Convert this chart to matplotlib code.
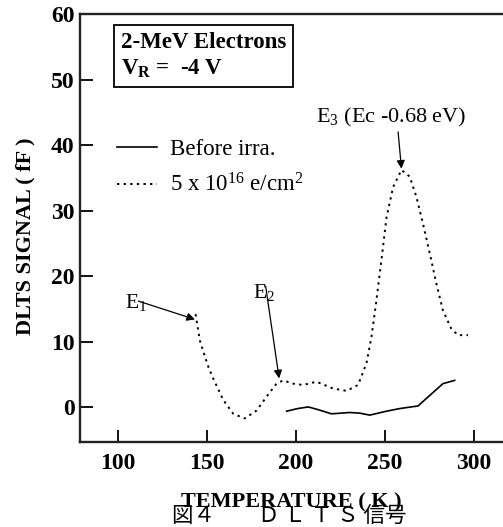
import matplotlib
matplotlib.use("Agg")
import matplotlib.pyplot as plt

plt.rcParams["font.family"] = ["Liberation Serif", "DejaVu Serif"]
plt.rcParams["mathtext.fontset"] = "custom"
plt.rcParams["mathtext.rm"] = "Liberation Serif"
plt.rcParams["mathtext.it"] = "Liberation Serif"
plt.rcParams["mathtext.bf"] = "Liberation Serif:bold"

# DLTS spectrum after irradiation (5e16 e/cm^2)
irr_temp = [143.6, 146.0, 148.9, 151.0, 153.5, 159.2, 164.8, 171.3, 177.9, 183.5,
            189.1, 192.9, 198.5, 204.1, 211.6, 221.0, 228.5, 235.0, 239.7, 242.5,
            245.3, 248.1, 251.0, 254.7, 259.4, 264.0, 267.8, 271.5, 275.3, 279.0,
            282.7, 287.4, 291.2, 296.8]
irr_sig = [14.2, 10.2, 7.7, 6.0, 4.4, 1.1, -1.0, -1.7, -0.5, 1.6,
           3.6, 4.1, 3.6, 3.4, 3.9, 2.85, 2.5, 3.4, 6.7, 10.7,
           16.3, 22.4, 29.0, 33.6, 36.2, 35.2, 32.1, 28.0, 23.5, 18.9,
           14.8, 12.0, 11.0, 11.0]

# DLTS spectrum before irradiation
pre_temp = [194.8, 201.0, 207.0, 213.0, 220.0, 230.3, 236.0, 241.6, 251.0,
            258.4, 268.7, 275.3, 282.7, 289.3]
pre_sig = [-0.6, -0.2, 0.05, -0.4, -1.0, -0.8, -0.9, -1.2, -0.6,
           -0.2, 0.2, 1.8, 3.6, 4.1]

xticks = [100, 150, 200, 250, 300]
yticks = [0, 10, 20, 30, 40, 50, 60]

fig = plt.figure(figsize=(5.03, 5.27), dpi=100)
ax = fig.add_axes([80 / 503, 85 / 527, 423 / 503, 428 / 527])

ax.plot(pre_temp, pre_sig, color="black", lw=1.2, label="Before irra.")
ax.plot(irr_temp, irr_sig, color="black", lw=1.4, linestyle=(0, (1.2, 2.2)),
        label=r"5 x 10$^{16}$ e/cm$^{2}$")

ax.set_xlim(78.6, 316.5)
ax.set_ylim(-5.3, 60)
ax.set_xticks(xticks)
ax.set_yticks(yticks)
ax.tick_params(direction="in", length=9, width=1.3, labelsize=17)
ax.tick_params(axis="x", pad=8)
ax.tick_params(axis="y", pad=4)
for lbl in ax.get_xticklabels() + ax.get_yticklabels():
    lbl.set_fontweight("bold")
ax.spines["right"].set_visible(False)
for s in ("left", "top", "bottom"):
    ax.spines[s].set_linewidth(1.7)
    ax.spines[s].set_color("#222222")

ax.set_ylabel("DLTS SIGNAL ( fF )", fontsize=16, fontweight="bold")
ax.yaxis.set_label_coords(-0.106, 0.481)
ax.set_xlabel("TEMPERATURE ( K )", fontsize=16, fontweight="bold", labelpad=13)

ax.text(101.8, 57.3, "2-MeV Electrons\nV$_{\\mathbf{R}}$ =  -4 V", fontsize=16.5,
        fontweight="bold", va="top", ha="left", linespacing=1.3,
        bbox=dict(boxstyle="square,pad=0.3", fc="white", ec="black", lw=1.3))

ax.legend(loc="upper left", bbox_to_anchor=(99.5, 41.0),
          bbox_transform=ax.transData, frameon=False, fontsize=16.5,
          handlelength=1.75, handletextpad=0.55, labelspacing=0.6,
          borderpad=0, borderaxespad=0)

arrow = dict(arrowstyle="-|>", color="black", lw=0.9, mutation_scale=12,
             shrinkA=0, shrinkB=0)
ax.text(104.0, 15.2, "E$_1$", fontsize=15.5, ha="left", va="baseline")
ax.annotate("", xy=(143.3, 13.4), xytext=(111.4, 16.2), arrowprops=arrow)
ax.text(175.8, 16.6, "E$_2$", fontsize=15.5, ha="left", va="baseline")
ax.annotate("", xy=(190.6, 4.4), xytext=(183.0, 18.5), arrowprops=arrow)
ax.text(211.6, 43.4, "E$_3$ (Ec -0.68 eV)", fontsize=16, ha="left", va="baseline")
ax.annotate("", xy=(259.4, 36.4), xytext=(257.5, 42.0), arrowprops=arrow)

fig.text(172 / 503, 0.5 / 527, "図４　　Ｄ Ｌ Ｔ Ｓ 信号", fontsize=15.5,
         family=["Noto Sans CJK JP", "DejaVu Sans"], ha="left", va="bottom")

fig.savefig("out.png", dpi=100)
